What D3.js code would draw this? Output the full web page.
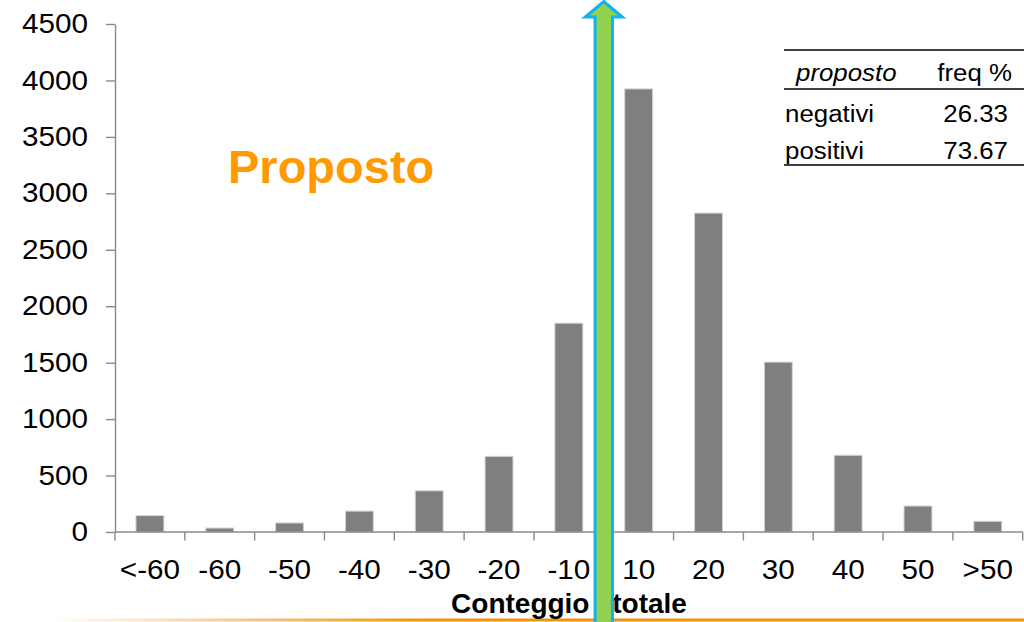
<!DOCTYPE html>
<html>
<head>
<meta charset="utf-8">
<script src="https://cdn.jsdelivr.net/npm/d3@7"></script>
<style>
  html, body { margin: 0; padding: 0; background: #fff; }
  svg { display: block; }
  text { font-family: "Liberation Sans", Arial, sans-serif; }
</style>
</head>
<body>
<svg id="chart" width="1024" height="622"></svg>
<script>
// Distribuzione del conteggio totale (proposto)
const categories = ["<-60", "-60", "-50", "-40", "-30", "-20", "-10", "10", "20", "30", "40", "50", ">50"];
const counts = [145, 35, 80, 185, 365, 670, 1850, 3925, 2825, 1505, 680, 230, 95];
const yTicks = [0, 500, 1000, 1500, 2000, 2500, 3000, 3500, 4000, 4500];
const tableHeader = ["proposto", "freq %"];
const tableLabels = ["negativi", "positivi"];
const tableValues = ["26.33", "73.67"];
const chartTitle = "Proposto";
const xTitle = "Conteggio totale";

const svg = d3.select("#chart");
const W = 1024, H = 622;
const plot = { left: 115, right: 1022.7, top: 24, bottom: 532 };

// widen text horizontally, like the stretched chart lettering
function widen(sel, k) {
  sel.each(function () {
    const w = this.getComputedTextLength();
    d3.select(this).attr("textLength", w * k).attr("lengthAdjust", "spacingAndGlyphs");
  });
}

const x = d3.scaleBand()
  .domain(categories)
  .range([plot.left, plot.right])
  .paddingInner(0.6)
  .paddingOuter(0.3);

const y = d3.scaleLinear()
  .domain([0, 4500])
  .range([plot.bottom, plot.top]);

const step = x.step();
const gap = (step - x.bandwidth()) / 2;
const boundary = i => x(categories[0]) - gap + i * step;

// bottom orange rule fading in from the left
const defs = svg.append("defs");
const grad = defs.append("linearGradient")
  .attr("id", "rule").attr("gradientUnits", "userSpaceOnUse")
  .attr("x1", 50).attr("x2", 420).attr("y1", 0).attr("y2", 0);
grad.append("stop").attr("offset", 0).attr("stop-color", "#f7941d").attr("stop-opacity", 0);
grad.append("stop").attr("offset", 1).attr("stop-color", "#f39214").attr("stop-opacity", 1);
svg.append("rect")
  .attr("x", 50).attr("y", 618.5).attr("width", W - 50).attr("height", 3)
  .attr("fill", "url(#rule)");

// bars
svg.append("g").selectAll("rect")
  .data(categories)
  .join("rect")
  .attr("x", d => x(d))
  .attr("y", (d, i) => y(counts[i]))
  .attr("width", x.bandwidth())
  .attr("height", (d, i) => y(0) - y(counts[i]))
  .attr("fill", "#7f7f7f")
  .attr("stroke", "#d4d4d4")
  .attr("stroke-width", 1);

const axisColor = "#8a8a8a";

// y axis
const yAxis = svg.append("g")
  .attr("transform", `translate(${plot.left},0)`)
  .call(d3.axisLeft(y).tickValues(yTicks).tickFormat(d3.format("d"))
    .tickSize(9).tickPadding(18).tickSizeOuter(0));
yAxis.select(".domain").attr("stroke", axisColor).attr("stroke-width", 1.4);
yAxis.selectAll(".tick line").attr("stroke", axisColor).attr("stroke-width", 1.4);
yAxis.selectAll(".tick text")
  .attr("font-size", 27).attr("fill", "#000")
  .attr("font-family", "Liberation Sans, Arial, sans-serif")
  .call(widen, 1.1);

// x axis: labels centred on bands, ticks between categories
const xAxis = svg.append("g")
  .attr("transform", `translate(0,${plot.bottom})`)
  .call(d3.axisBottom(x).tickSize(0).tickPadding(28).tickSizeOuter(0));
xAxis.select(".domain").attr("stroke", axisColor).attr("stroke-width", 1.4)
  .attr("d", `M${plot.left},0H${plot.right}`);
xAxis.selectAll(".tick text")
  .attr("font-size", 27).attr("fill", "#000")
  .attr("font-family", "Liberation Sans, Arial, sans-serif")
  .call(widen, 1.1);
xAxis.append("g").selectAll("line")
  .data(d3.range(categories.length + 1))
  .join("line")
  .attr("x1", i => boundary(i)).attr("x2", i => boundary(i))
  .attr("y1", 0).attr("y2", 8.5)
  .attr("stroke", axisColor).attr("stroke-width", 1.4);

// axis title
svg.append("text")
  .attr("x", 569).attr("y", 613)
  .attr("text-anchor", "middle")
  .attr("font-size", 28).attr("font-weight", "bold")
  .attr("word-spacing", 15)
  .attr("fill", "#000")
  .text(xTitle);

// chart title
svg.append("text")
  .attr("x", 228).attr("y", 182.5)
  .attr("font-size", 47).attr("font-weight", "bold")
  .attr("fill", "#ff9a00")
  .text(chartTitle);

// frequency table
const tbl = svg.append("g");
const tLeft = 784, tRight = 1024;
[50, 89, 165].forEach(ly => {
  tbl.append("line").attr("x1", tLeft).attr("x2", tRight).attr("y1", ly).attr("y2", ly)
    .attr("stroke", "#000").attr("stroke-width", 1.6);
});
tbl.append("text").attr("x", 796).attr("y", 81)
  .attr("font-size", 23.5).attr("font-style", "italic").text(tableHeader[0]).call(widen, 1.1);
tbl.append("text").attr("x", 1012).attr("y", 81).attr("text-anchor", "end")
  .attr("font-size", 23.5).text(tableHeader[1]).call(widen, 1.1);
const rowY = [122, 159];
tableLabels.forEach((lab, i) => {
  tbl.append("text").attr("x", 785).attr("y", rowY[i])
    .attr("font-size", 23.5).text(lab).call(widen, 1.1);
  tbl.append("text").attr("x", 1008).attr("y", rowY[i]).attr("text-anchor", "end")
    .attr("font-size", 23.5).text(tableValues[i]).call(widen, 1.1);
});

// arrow marking zero between the negative and positive classes
const zx = boundary(categories.indexOf("10"));
const shaftHalf = 8.7, headHalf = 18.5, headBase = 17, tipY = 1.5;
const arrow = d3.path();
arrow.moveTo(zx, tipY);
arrow.lineTo(zx + headHalf, headBase);
arrow.lineTo(zx + shaftHalf, headBase);
arrow.lineTo(zx + shaftHalf, H + 10);
arrow.lineTo(zx - shaftHalf, H + 10);
arrow.lineTo(zx - shaftHalf, headBase);
arrow.lineTo(zx - headHalf, headBase);
arrow.closePath();
svg.append("path")
  .attr("d", arrow.toString())
  .attr("fill", "#92d050")
  .attr("stroke", "#0fb4ef")
  .attr("stroke-width", 3)
  .attr("stroke-linejoin", "miter");
</script>
</body>
</html>
